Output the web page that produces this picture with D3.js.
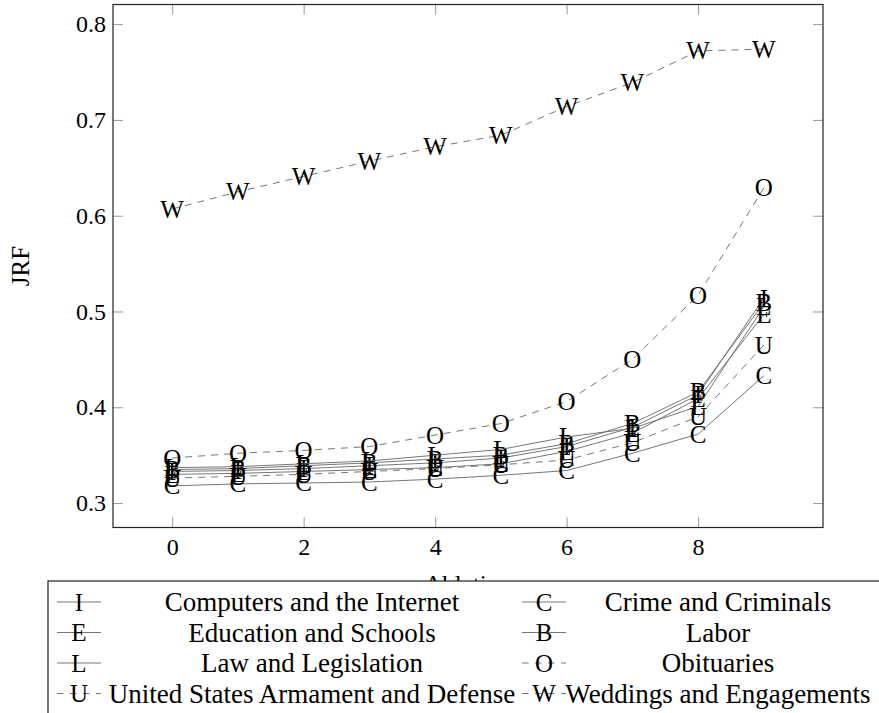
<!DOCTYPE html>
<html>
<head>
<meta charset="utf-8">
<script src="https://cdn.jsdelivr.net/npm/d3@7"></script>
</head>
<body style="margin:0">
<svg id="chart" width="879" height="713"></svg>
<script>
// ablation step on the x axis
const steps = [0, 1, 2, 3, 4, 5, 6, 7, 8, 9];

// one JRF curve per topic
const computersInternet = [0.333, 0.334, 0.336, 0.339, 0.342, 0.347, 0.359, 0.379, 0.413, 0.514];
const crimeCriminals = [0.318, 0.320, 0.321, 0.322, 0.325, 0.329, 0.334, 0.352, 0.372, 0.433];
const educationSchools = [0.330, 0.331, 0.333, 0.335, 0.337, 0.341, 0.354, 0.373, 0.409, 0.497];
const labor = [0.335, 0.336, 0.339, 0.342, 0.346, 0.350, 0.362, 0.383, 0.416, 0.509];
const lawLegislation = [0.337, 0.338, 0.341, 0.344, 0.350, 0.356, 0.369, 0.378, 0.401, 0.505];
const obituaries = [0.347, 0.352, 0.355, 0.359, 0.371, 0.383, 0.406, 0.450, 0.517, 0.629];
const armamentDefense = [0.326, 0.328, 0.330, 0.333, 0.336, 0.340, 0.345, 0.363, 0.390, 0.465];
const weddingsEngagements = [0.607, 0.625, 0.641, 0.657, 0.672, 0.684, 0.714, 0.739, 0.772, 0.774];

const xTicks = [0, 2, 4, 6, 8];
const yTicks = [0.3, 0.4, 0.5, 0.6, 0.7, 0.8];

// legend order (two columns, filled row by row)
const series = [
  { name: 'Computers and the Internet', mark: 'I', dashed: false, values: computersInternet },
  { name: 'Crime and Criminals', mark: 'C', dashed: false, values: crimeCriminals },
  { name: 'Education and Schools', mark: 'E', dashed: false, values: educationSchools },
  { name: 'Labor', mark: 'B', dashed: false, values: labor },
  { name: 'Law and Legislation', mark: 'L', dashed: false, values: lawLegislation },
  { name: 'Obituaries', mark: 'O', dashed: true, values: obituaries },
  { name: 'United States Armament and Defense', mark: 'U', dashed: true, values: armamentDefense },
  { name: 'Weddings and Engagements', mark: 'W', dashed: true, values: weddingsEngagements },
];

const font = '"Liberation Serif"';
const svg = d3.select('#chart');
const box = { left: 113, right: 823, top: 4.5, bottom: 527.5 };
const lineColor = '#666';
const dash = '7,6';

const x = d3.scaleLinear().domain([-0.9, 9.9]).range([box.left, box.right]);
const y = d3.scaleLinear().domain([0.2745, 0.8205]).range([box.bottom, box.top]);
const tick = 10;

// every text goes through here so the serif face sticks
function label(sel, size) {
  return sel
    .attr('font-family', 'Liberation Serif')
    .style('font-family', font)
    .attr('font-size', size)
    .attr('fill', '#000');
}

// axes, ticks pointing inward on all four sides
svg.append('g')
  .attr('transform', `translate(0,${box.bottom})`)
  .call(d3.axisBottom(x).tickValues(xTicks).tickSize(-tick).tickSizeOuter(0).tickPadding(10));
svg.append('g')
  .attr('transform', `translate(0,${box.top})`)
  .call(d3.axisTop(x).tickValues(xTicks).tickSize(-tick).tickSizeOuter(0).tickFormat(''));
svg.append('g')
  .attr('transform', `translate(${box.left},0)`)
  .call(d3.axisLeft(y).tickValues(yTicks).tickSize(-tick).tickSizeOuter(0).tickPadding(7)
    .tickFormat(d3.format('.1f')));
svg.append('g')
  .attr('transform', `translate(${box.right},0)`)
  .call(d3.axisRight(y).tickValues(yTicks).tickSize(-tick).tickSizeOuter(0).tickFormat(''));

svg.selectAll('g').attr('font-family', null).attr('font-size', null);
svg.selectAll('.domain').remove();
svg.selectAll('.tick line').attr('stroke', '#999');
label(svg.selectAll('.tick text'), 24);

svg.append('rect')
  .attr('x', box.left)
  .attr('y', box.top)
  .attr('width', box.right - box.left)
  .attr('height', box.bottom - box.top)
  .attr('fill', 'none')
  .attr('stroke', '#222')
  .attr('stroke-width', 1.2);

// axis titles
label(svg.append('text'), 25)
  .attr('transform', `translate(20,${(box.top + box.bottom) / 2}) rotate(-90)`)
  .attr('text-anchor', 'middle')
  .attr('dominant-baseline', 'central')
  .text('JRF');

label(svg.append('text'), 25)
  .attr('x', (box.left + box.right) / 2)
  .attr('y', 593)
  .attr('text-anchor', 'middle')
  .text('Ablation');

// curves
const curve = d3.line()
  .x((d, i) => x(steps[i]))
  .y(d => y(d));

const plots = svg.append('g').attr('class', 'plots');

series.forEach(s => {
  const g = plots.append('g').attr('class', 'series');
  g.append('path')
    .attr('d', curve(s.values))
    .attr('fill', 'none')
    .attr('stroke', lineColor)
    .attr('stroke-width', 0.9)
    .attr('stroke-dasharray', s.dashed ? dash : null);
  label(g.selectAll('text').data(s.values).join('text'), 25)
    .attr('x', (d, i) => x(steps[i]))
    .attr('y', d => y(d))
    .attr('text-anchor', 'middle')
    .attr('dominant-baseline', 'central')
    .text(s.mark);
});

// legend box (covers the lower part of the x label, as in the original)
const legend = { left: 48, top: 581, rowH: 30.5, firstRow: 602 };
svg.append('rect')
  .attr('x', legend.left)
  .attr('y', legend.top)
  .attr('width', 900 - legend.left)
  .attr('height', 140)
  .attr('fill', '#fff')
  .attr('stroke', '#222')
  .attr('stroke-width', 1.2);

const cols = [
  { markX: 79, textX: 312 },
  { markX: 544, textX: 718 },
];

series.forEach((s, k) => {
  const col = cols[k % 2];
  const rowY = legend.firstRow + Math.floor(k / 2) * legend.rowH;
  const g = svg.append('g').attr('class', 'legend-entry');
  g.append('line')
    .attr('x1', col.markX - 22)
    .attr('x2', col.markX + 22)
    .attr('y1', rowY)
    .attr('y2', rowY)
    .attr('stroke', lineColor)
    .attr('stroke-width', 0.9)
    .attr('stroke-dasharray', s.dashed ? '6.5,6.5' : null);
  label(g.append('text'), 25)
    .attr('x', col.markX)
    .attr('y', rowY)
    .attr('text-anchor', 'middle')
    .attr('dominant-baseline', 'central')
    .text(s.mark);
  label(g.append('text'), 27)
    .attr('x', col.textX)
    .attr('y', rowY)
    .attr('text-anchor', 'middle')
    .attr('dominant-baseline', 'central')
    .text(s.name);
});
</script>
</body>
</html>
